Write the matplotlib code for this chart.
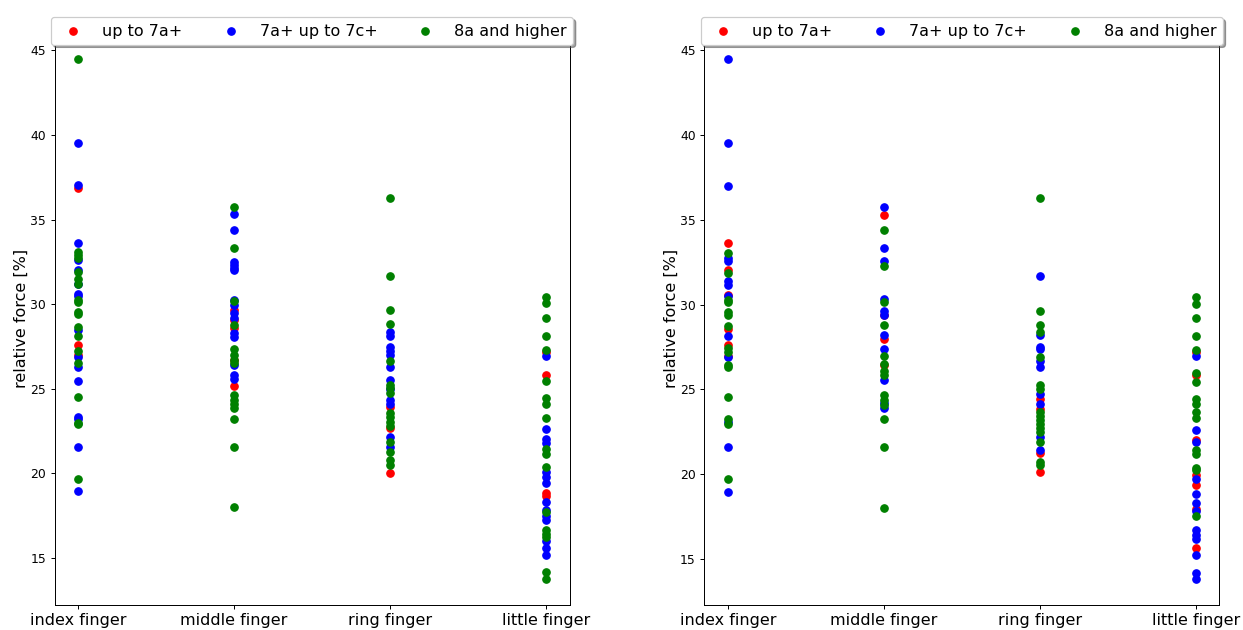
import matplotlib
matplotlib.use("Agg")
import matplotlib.pyplot as plt

fingers = ['index finger', 'middle finger', 'ring finger', 'little finger']
groups = ['up to 7a+', '7a+ up to 7c+', '8a and higher']
colors = ['red', 'blue', 'green']

# left panel: values per finger for each group
left_red = [
    [36.89, 27.58, 26.98],
    [29.64, 29.05, 28.56, 26.69, 25.15],
    [23.93, 22.65, 20.03],
    [27.18, 25.8, 18.85, 18.66],
]
left_blue = [
    [39.53, 37.03, 33.64, 32.6, 32.0, 31.2, 30.57, 30.45, 28.46, 26.85, 26.29, 25.43, 23.3, 23.19, 21.57, 18.93],
    [35.31, 34.37, 32.5, 32.3, 32.16, 32.0, 30.27, 29.94, 29.45, 29.15, 28.27, 28.03, 26.4, 25.8, 25.55],
    [28.36, 28.1, 27.48, 27.24, 26.98, 26.29, 25.5, 24.95, 24.33, 24.09, 22.12, 21.57],
    [26.93, 22.6, 22.0, 21.8, 20.09, 19.76, 19.41, 18.32, 17.83, 17.44, 17.2, 15.96, 15.57, 15.17],
]
left_green = [
    [44.51, 33.09, 32.9, 32.7, 31.9, 31.5, 31.2, 30.23, 30.13, 29.55, 29.4, 28.66, 28.1, 27.24, 26.49, 24.52, 22.99, 22.91, 19.66],
    [35.75, 33.32, 30.19, 28.76, 27.34, 26.98, 26.69, 26.49, 24.62, 24.33, 24.09, 23.84, 23.19, 21.57, 18.0],
    [36.28, 31.67, 29.64, 28.8, 26.65, 25.21, 25.02, 24.72, 23.54, 23.3, 23.05, 22.79, 21.86, 21.27, 20.78, 20.49],
    [30.43, 30.04, 29.19, 28.1, 27.28, 25.45, 24.42, 24.09, 23.28, 21.41, 21.14, 20.39, 17.73, 16.65, 16.41, 16.22, 14.15, 13.75],
]

# right panel
right_red = [
    [33.65, 32.02, 30.6, 28.58, 27.6, 26.97],
    [35.32, 29.4, 27.95, 26.42],
    [24.45, 23.86, 21.27, 20.13],
    [27.2, 25.83, 21.99, 19.93, 19.38, 17.96, 15.64],
]
right_blue = [
    [44.51, 39.54, 37.02, 32.75, 32.6, 31.37, 31.14, 30.49, 28.13, 26.91, 23.1, 21.6, 18.98],
    [35.76, 33.34, 32.55, 30.31, 29.6, 29.37, 28.23, 27.36, 25.53, 24.2, 23.9],
    [31.69, 28.19, 27.5, 27.36, 26.65, 26.32, 24.75, 24.12, 22.19, 21.4],
    [26.95, 22.58, 21.93, 19.69, 18.85, 18.31, 17.83, 16.68, 16.43, 16.2, 15.21, 14.19, 13.83],
]
right_green = [
    [33.05, 31.87, 30.25, 30.16, 29.57, 29.41, 28.74, 27.44, 27.2, 26.45, 26.32, 24.57, 23.23, 22.98, 19.69],
    [34.38, 32.28, 30.16, 28.78, 26.95, 26.52, 26.06, 25.83, 24.65, 24.35, 24.06, 23.23, 21.6, 18.02],
    [36.29, 29.64, 28.82, 28.39, 26.91, 25.24, 25.0, 23.67, 23.43, 23.2, 22.96, 22.73, 22.49, 21.9, 20.72, 20.56],
    [30.45, 30.06, 29.21, 28.13, 27.3, 25.98, 25.44, 24.41, 24.16, 23.67, 23.31, 21.4, 21.2, 20.36, 20.22, 17.53],
]

panels = [
    [left_red, left_blue, left_green],
    [right_red, right_blue, right_green],
]

DPI = 88.8
fig, axes = plt.subplots(1, 2, figsize=(1243 / DPI, 630 / DPI), dpi=DPI)
fig.subplots_adjust(left=0.044, right=0.981, bottom=0.040, top=0.948, wspace=0.262)

for ax, series in zip(axes, panels):
    for label, color, data in zip(groups, colors, series):
        xs = []
        ys = []
        for i, vals in enumerate(data):
            xs.extend([fingers[i]] * len(vals))
            ys.extend(vals)
        ax.scatter(xs, ys, c=color, label=label)
    ax.set_xticks(range(len(fingers)))
    ax.set_xticklabels(fingers, fontsize=13)
    ax.set_ylabel('relative force [%]', fontsize=13, labelpad=1)
    ax.legend(loc='center', bbox_to_anchor=(0.5, 1.003), ncol=3, fontsize=13,
              fancybox=True, shadow=True, framealpha=1.0)

fig.savefig('out.png', dpi=DPI)
